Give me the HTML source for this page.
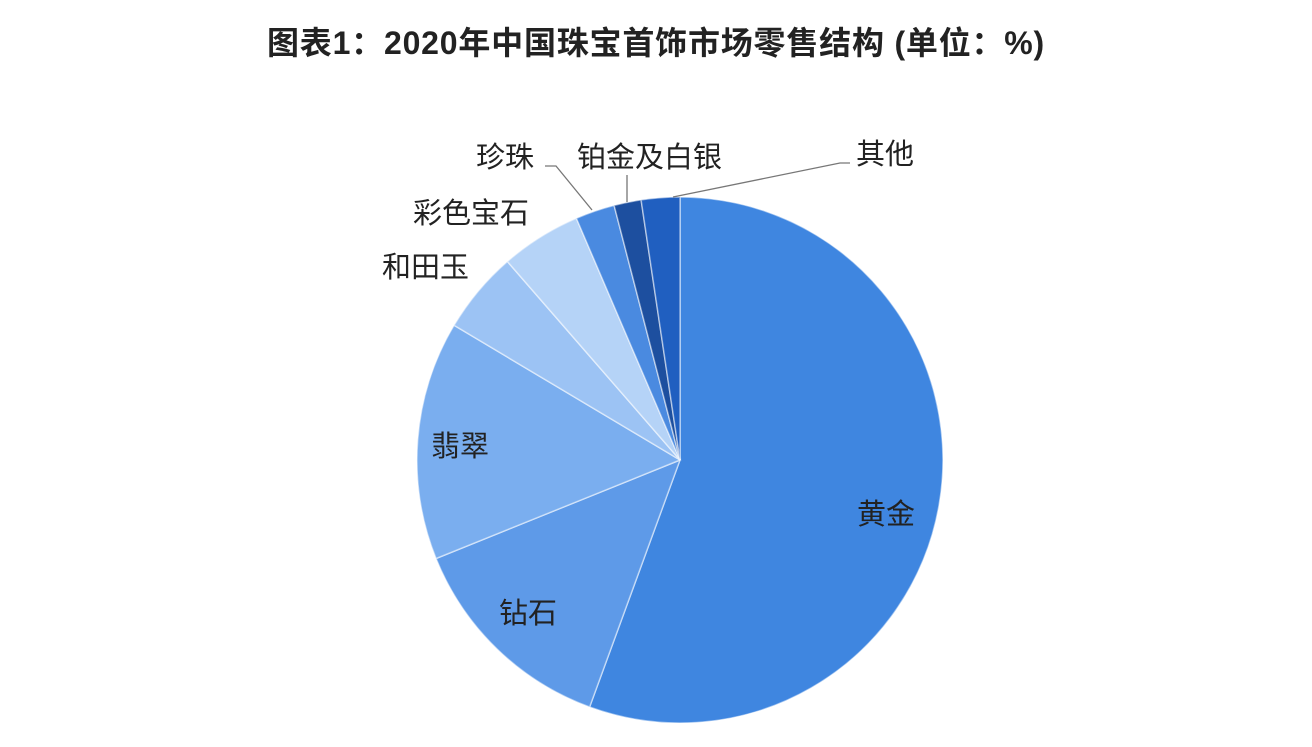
<!DOCTYPE html>
<html><head><meta charset="utf-8"><style>
body{margin:0;background:#fff;width:1312px;height:742px;overflow:hidden}
</style></head><body>
<svg width="1312" height="742" viewBox="0 0 1312 742" xmlns="http://www.w3.org/2000/svg" font-family="'Liberation Sans','Noto Sans CJK SC',sans-serif">
<text x="656" y="54" text-anchor="middle" font-size="32" font-weight="bold" fill="#222" letter-spacing="0.8">图表1：2020年中国珠宝首饰市场零售结构 (单位：%)</text>
<g stroke="#fff" stroke-width="1.5" stroke-opacity="0.5">
<path d="M680,460 L680,197 A263,263 0 1,1 589.6,707 Z" fill="#3f86e0"/>
<path d="M680,460 L589.6,707 A263,263 0 0,1 436.1,558.5 Z" fill="#5e9ae8"/>
<path d="M680,460 L436.1,558.5 A263,263 0 0,1 454.1,325.3 Z" fill="#7aaeef"/>
<path d="M680,460 L454.1,325.3 A263,263 0 0,1 507.4,261.5 Z" fill="#9cc3f4"/>
<path d="M680,460 L507.4,261.5 A263,263 0 0,1 576.4,218.3 Z" fill="#b5d3f7"/>
<path d="M680,460 L576.4,218.3 A263,263 0 0,1 614.1,205.4 Z" fill="#4a8ae0"/>
<path d="M680,460 L614.1,205.4 A263,263 0 0,1 641.1,199.9 Z" fill="#1d4f9f"/>
<path d="M680,460 L641.1,199.9 A263,263 0 0,1 680,197 Z" fill="#205fc0"/>
</g>
<g stroke="#777" stroke-width="1.3" fill="none">
<polyline points="545,166 556,166 592,210"/>
<line x1="627" y1="175" x2="627" y2="202"/>
<polyline points="850,163 840,163 673,197"/>
</g>
<g font-size="29" fill="#222">
<text x="476" y="167">珍珠</text>
<text x="577" y="167">铂金及白银</text>
<text x="856" y="164">其他</text>
<text x="413" y="223">彩色宝石</text>
<text x="382" y="277">和田玉</text>
<text x="431" y="456">翡翠</text>
<text x="499" y="623">钻石</text>
<text x="857" y="524">黄金</text>
</g>
</svg>
</body></html>
